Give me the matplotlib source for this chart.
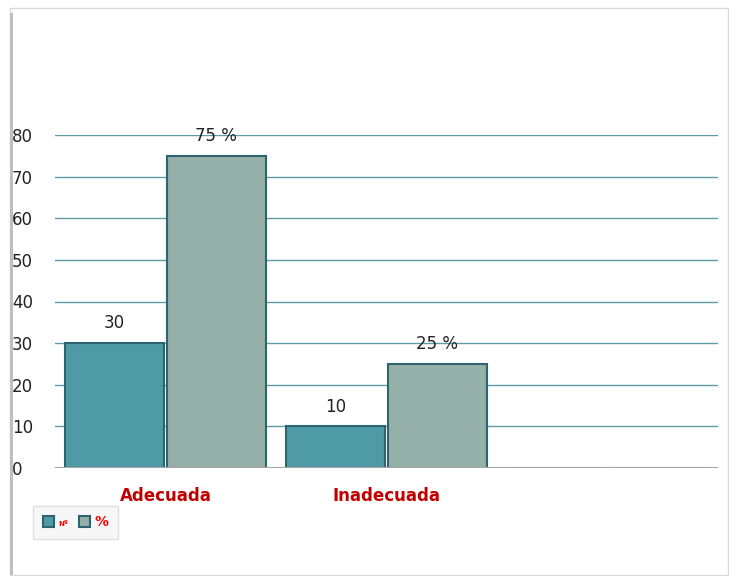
import matplotlib
matplotlib.use("Agg")
import matplotlib.pyplot as plt
from matplotlib.patches import Rectangle
import numpy as np

categories = ["Adecuada", "Inadecuada", ""]
series_names = ["Nº", "%"]
n_values = [30, 10, None]
pct_values = [75, 25, None]
n_labels = ["30", "10"]
pct_labels = ["75 %", "25 %"]
yticks = [0, 10, 20, 30, 40, 50, 60, 70, 80]

c_n = "#4E9AA5"
c_p = "#95AFA9"
edge = "#2E6470"

fig = plt.figure(figsize=(7.29, 5.76), dpi=100)
fig.patch.set_facecolor("white")

# outer frame
fig.patches.append(Rectangle((10/729, 1-575/576), 718/729, 567/576, transform=fig.transFigure,
                             facecolor="none", edgecolor="#D9D9D9", lw=1.0))
fig.patches.append(Rectangle((10/729, 1-575/576), 3/729, 562/576, transform=fig.transFigure,
                             facecolor="#BFBFBF", edgecolor="none"))

ax = fig.add_axes([55/729, 1-468/576, 663/729, (468-135)/576])
x = np.arange(len(categories))
w = 0.445
off = 0.23
nv = [v if v is not None else 0 for v in n_values]
pv = [v if v is not None else 0 for v in pct_values]
ax.bar(x - off, nv, w, color=c_n, edgecolor=edge, lw=1.5, zorder=3)
ax.bar(x + off, pv, w, color=c_p, edgecolor=edge, lw=1.5, zorder=3)

for i, lab in enumerate(n_labels):
    ax.text(x[i] - off, n_values[i] + 2.6, lab, ha="center", va="bottom", fontsize=12, color="#222222", zorder=5)
for i, lab in enumerate(pct_labels):
    ax.text(x[i] + off, pct_values[i] + 2.6, lab, ha="center", va="bottom", fontsize=12, color="#222222", zorder=5, clip_on=False)

ax.set_xlim(-0.5, 2.5)
ax.set_ylim(0, 80)
ax.set_yticks(yticks)
ax.set_yticklabels([str(t) for t in yticks], fontsize=12, color="#222222")
ax.set_xticks(x[:2])
ax.set_xticklabels(categories[:2], fontsize=12, fontweight="bold", color="#C00000")
ax.tick_params(axis="both", length=0)
ax.tick_params(axis="x", pad=14)
for t in ax.get_yticklabels():
    t.set_horizontalalignment("left")
ax.yaxis.set_tick_params(pad=31)
ax.grid(axis="y", color="#5C9CA8", lw=1.0, zorder=0)
for s in ax.spines.values():
    s.set_visible(False)
ax.axhline(0, color="#A6A6A6", lw=1.5, zorder=4)

handles = [Rectangle((0, 0), 1, 1, facecolor=c_n, edgecolor=edge, lw=1.5),
           Rectangle((0, 0), 1, 1, facecolor=c_p, edgecolor=edge, lw=1.5)]
leg = fig.legend(handles, series_names, loc="lower left", bbox_to_anchor=(26/729, 1-546/576),
                 ncol=2, frameon=True, fontsize=10, handlelength=0.8, handleheight=0.8,
                 columnspacing=0.8, handletextpad=0.3, borderpad=0.7, fancybox=False)
leg.get_frame().set_edgecolor("#D9D9D9")
leg.get_frame().set_facecolor("#F5F5F5")
for t, fs in zip(leg.get_texts(), [5, 10]):
    t.set_color("#FF0000")
    t.set_fontweight("bold")
    t.set_fontsize(fs)

fig.savefig("out.png", dpi=100)
